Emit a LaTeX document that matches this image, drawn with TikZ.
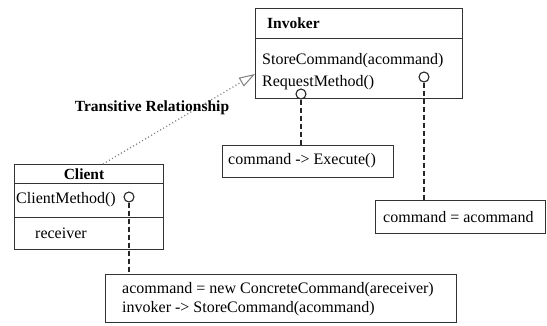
\documentclass[tikz,border=0pt]{standalone}
\usepackage{fontspec}
\setmainfont{Liberation Serif}
\usetikzlibrary{arrows.meta}
\begin{document}
\begin{tikzpicture}[x=1pt,y=-1pt,
  box/.style={draw=black!80, line width=0.9pt, anchor=north west, inner sep=0pt},
  txt/.style={anchor=west, inner sep=0pt, font=\fontsize{16}{19}\selectfont},
  ttl/.style={inner sep=0pt, font=\fontsize{15.5}{19}\selectfont\bfseries},
  pin/.style={circle, draw=black!85, line width=1.1pt, minimum size=10pt, inner sep=0pt, fill=white},
  link/.style={draw=black!85, line width=1.4pt, dash pattern=on 5pt off 3pt},
  gen/.style={draw=black!50, line width=1.3pt, dash pattern=on 1pt off 2.5pt,
    -{Triangle[open, length=16pt, width=10pt, line width=1pt]}}]
\useasboundingbox (0,0) rectangle (547,325);

% Invoker class
\node[box, minimum width=207pt, minimum height=90pt] (invoker) at (255,8) {};
\draw[black!80, line width=0.9pt] (255,38) -- (462,38);
\node[ttl, anchor=west] (invname) at (267,23) {Invoker};
\node[txt] (store) at (262,61) {StoreCommand(acommand)};
\node[txt] (request) at (262,83) {RequestMethod()};
\node[pin] (reqpin) at (301,94) {};
\node[pin] (storepin) at (424,77) {};

% Notes attached to the Invoker operations
\node[box, minimum width=171pt, minimum height=32pt] (execnote) at (222,145) {};
\node[txt] (exectext) at (228,161) {command -> Execute()};
\node[box, minimum width=170pt, minimum height=33pt] (assignnote) at (375,200) {};
\node[txt] (assigntext) at (383,217) {command = acommand};

% Client class
\node[box, minimum width=149pt, minimum height=85pt] (client) at (14,164) {};
\draw[black!80, line width=0.9pt] (14,183) -- (163,183);
\draw[black!80, line width=0.9pt] (14,217) -- (163,217);
\node[ttl] (clientname) at (84,174) {Client};
\node[txt] (clientmethod) at (16,200) {ClientMethod()};
\node[pin] (clientpin) at (129,197) {};
\node[txt] (receiver) at (35,233) {receiver};

% Note attached to ClientMethod
\node[box, minimum width=351pt, minimum height=48pt] (clientnote) at (105,274) {};
\node[txt] (line1) at (122,290) {acommand = new ConcreteCommand(areceiver)};
\node[txt] (line2) at (122,309) {invoker -> StoreCommand(acommand)};

% Lollipop connectors
\draw[link] (reqpin.south) -- (execnote.north -| reqpin);
\draw[link] (storepin.south) -- (assignnote.north -| storepin);
\draw[link] (clientpin.south) -- (clientnote.north -| clientpin);

% Dotted generalisation from Client to Invoker
\coordinate (genstart) at (103,164);
\coordinate (genend) at (255,74);
\draw[gen] (genstart) -- (genend);
\node[ttl] (translabel) at (152,108) {Transitive Relationship};
\end{tikzpicture}
\end{document}
